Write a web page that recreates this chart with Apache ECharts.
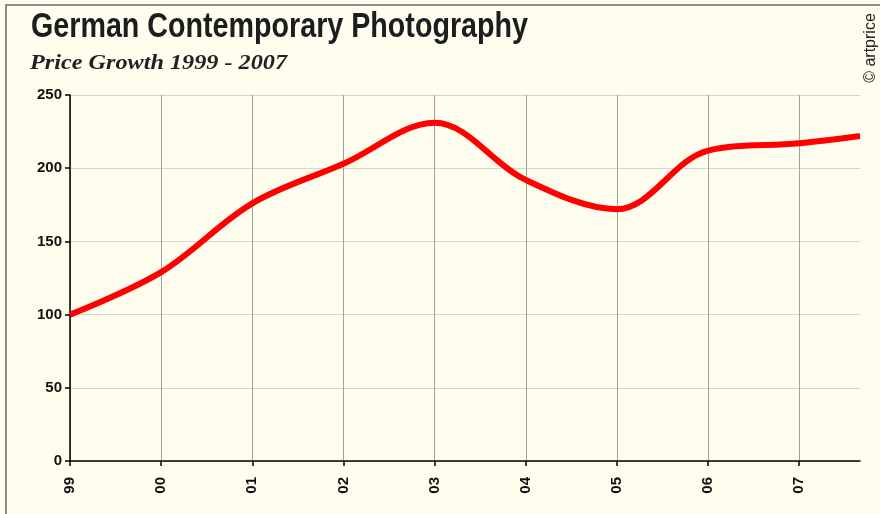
<!DOCTYPE html>
<html>
<head>
<meta charset="utf-8">
<script src="https://cdn.jsdelivr.net/npm/echarts@6/dist/echarts.min.js"></script>
<style>
  html, body { margin: 0; padding: 0; background: #fffdee; }
  #main { width: 880px; height: 514px; }
</style>
</head>
<body>
<div id="main"></div>
<script>
// year labels on the axis, one category per month
var years = ['99', '00', '01', '02', '03', '04', '05', '06', '07'];
var monthCount = 105; // Jan 1999 .. Sep 2007

// price index (1999 = 100)
var pointMonths = ['99-01', '00-01', '01-01', '02-01', '03-01', '04-01', '05-01', '06-01', '07-01', '07-09'];
var pointValues = [100, 129, 176, 203, 231, 192, 172, 212, 217, 222];

var yTicks = { min: 0, max: 250, interval: 50 };

var categories = [];
for (var i = 0; i < monthCount; i++) {
  var y = years[Math.floor(i / 12)] || '07';
  var m = (i % 12) + 1;
  categories.push(y + '-' + (m < 10 ? '0' + m : m));
}
var seriesData = pointMonths.map(function (mo, k) { return [mo, pointValues[k]]; });

function isYearStart(idx) { return idx % 12 === 0; }

// condensed look: squeeze the text to the width it has in the original
var ctx = document.createElement('canvas').getContext('2d');
function squeeze(text, font, width) {
  ctx.font = font;
  return width / ctx.measureText(text).width;
}
var titleText = 'German Contemporary Photography';
var titleFont = 'bold 35px "Liberation Sans"';
var subText = 'Price Growth 1999 - 2007';
var subFont = 'italic bold 21px "Liberation Serif"';

var chart = echarts.init(document.getElementById('main'));
chart.setOption({
  backgroundColor: '#fffdee',
  animation: false,
  graphic: [
    {
      type: 'rect',
      shape: { x: 6, y: 5, width: 900, height: 600 },
      style: { fill: 'none', stroke: '#8c8c8c', lineWidth: 2 },
      silent: true
    },
    {
      type: 'text',
      x: 31,
      y: 27,
      scaleX: squeeze(titleText, titleFont, 497),
      style: {
        text: titleText,
        font: titleFont,
        fill: '#1d1d20',
        align: 'left',
        verticalAlign: 'middle'
      }
    },
    {
      type: 'text',
      x: 30,
      y: 64,
      scaleX: squeeze(subText, subFont, 257),
      style: {
        text: subText,
        font: subFont,
        fill: '#222',
        align: 'left',
        verticalAlign: 'middle'
      }
    },
    {
      type: 'text',
      x: 871,
      y: 48,
      rotation: Math.PI / 2,
      style: {
        text: '© artprice',
        fontFamily: 'Liberation Sans',
        fontSize: 16,
        fill: '#222',
        align: 'center',
        verticalAlign: 'middle'
      }
    }
  ],
  grid: { left: 70, right: 20, top: 95, bottom: 53 },
  xAxis: {
    type: 'category',
    data: categories,
    boundaryGap: false,
    axisLine: { lineStyle: { color: '#000', width: 1.5 } },
    axisTick: { interval: function (idx) { return isYearStart(idx); }, length: 5, lineStyle: { color: '#000', width: 1.5 } },
    axisLabel: {
      interval: function (idx) { return isYearStart(idx); },
      formatter: function (v) { return v.slice(0, 2); },
      rotate: 90,
      margin: 16,
      fontFamily: 'Liberation Sans',
      fontWeight: 'bold',
      fontSize: 15,
      color: '#111'
    },
    splitLine: {
      show: true,
      interval: function (idx) { return isYearStart(idx); },
      lineStyle: { color: '#a0a0a0', width: 1 }
    }
  },
  yAxis: {
    type: 'value',
    min: yTicks.min,
    max: yTicks.max,
    interval: yTicks.interval,
    axisLine: { show: true, lineStyle: { color: '#000', width: 1.5 } },
    axisTick: { show: true, length: 5, lineStyle: { color: '#000', width: 1.5 } },
    axisLabel: { margin: 8, fontFamily: 'Liberation Sans', fontWeight: 'bold', fontSize: 15, color: '#111' },
    splitLine: { lineStyle: { color: '#d6d6cc', width: 1 } }
  },
  series: [
    {
      type: 'line',
      data: seriesData,
      smooth: 0.35,
      symbol: 'none',
      lineStyle: { color: '#ff0000', width: 6 }
    }
  ]
});
</script>
</body>
</html>
